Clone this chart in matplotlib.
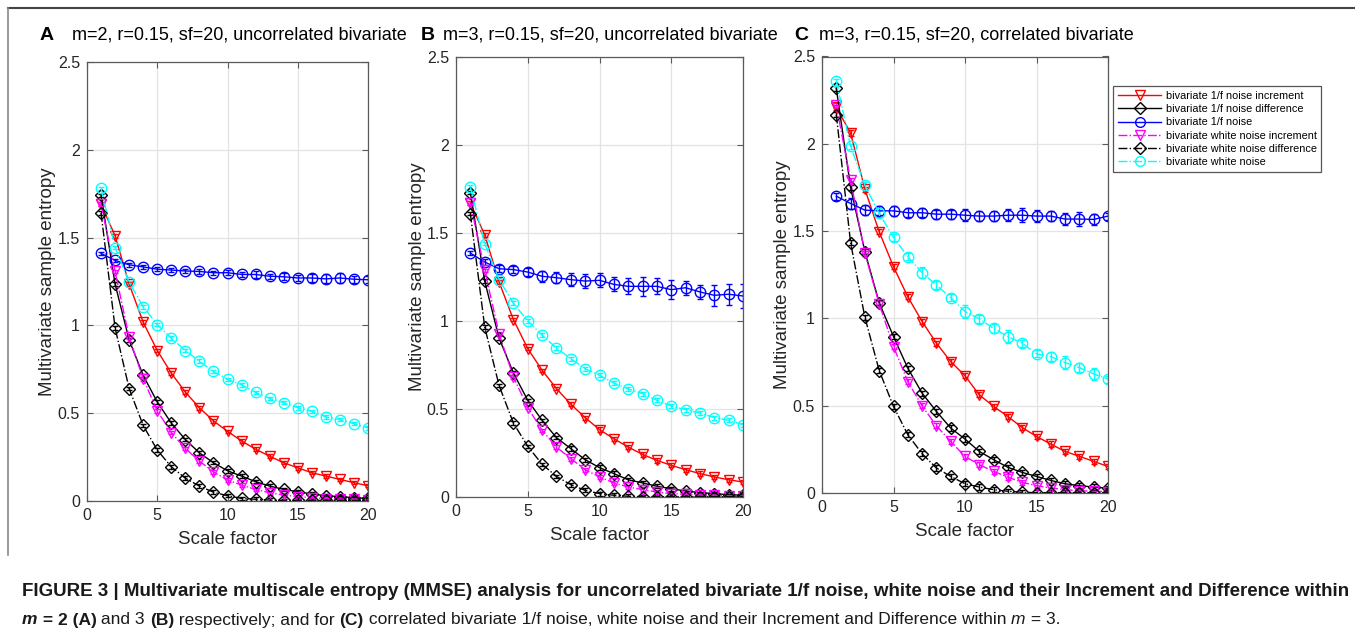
import numpy as np
import matplotlib.pyplot as plt
from matplotlib.lines import Line2D

# ------------------------------------------------------------------------------------------#
# MMSE of bivariate 1/f noise, white noise and their increment / difference (3 panels)
# ------------------------------------------------------------------------------------------#
scale = list(range(1, 21))

# panel A: m=2, uncorrelated
a_f_inc = [1.69, 1.51, 1.235, 1.018, 0.857, 0.728, 0.62, 0.531, 0.456, 0.397,
           0.342, 0.295, 0.255, 0.218, 0.189, 0.161, 0.142, 0.123, 0.104, 0.087]
a_f_diff = [1.74, 1.235, 0.917, 0.715, 0.564, 0.444, 0.35, 0.274, 0.218, 0.172,
            0.142, 0.11, 0.085, 0.066, 0.053, 0.04, 0.03, 0.025, 0.019, 0.015]
a_f = [1.41, 1.37, 1.345, 1.333, 1.32, 1.315, 1.31, 1.307, 1.30, 1.30,
       1.29, 1.29, 1.28, 1.277, 1.27, 1.27, 1.265, 1.27, 1.263, 1.26]
a_w_inc = [1.69, 1.307, 0.932, 0.696, 0.513, 0.39, 0.299, 0.227, 0.166, 0.119,
           0.091, 0.066, 0.047, 0.034, 0.025, 0.019, 0.013, 0.011, 0.01, 0.008]
a_w_diff = [1.64, 0.985, 0.64, 0.43, 0.29, 0.195, 0.13, 0.085, 0.05, 0.03,
            0.015, 0.01, 0.005, 0.003, 0.003, 0.003, 0.003, 0.003, 0.003, 0.003]
a_w = [1.78, 1.443, 1.245, 1.106, 1.004, 0.927, 0.857, 0.796, 0.738, 0.692,
       0.662, 0.618, 0.584, 0.56, 0.531, 0.511, 0.479, 0.463, 0.44, 0.416]
a_f_err = [0.01, 0.01, 0.01, 0.01, 0.01, 0.012, 0.012, 0.012, 0.012, 0.015,
           0.015, 0.02, 0.015, 0.02, 0.015, 0.02, 0.025, 0.03, 0.02, 0.02]
a_small_err = [0.01, 0.01, 0.01, 0.01, 0.01, 0.01, 0.01, 0.01, 0.01, 0.01,
               0.01, 0.01, 0.01, 0.01, 0.01, 0.01, 0.01, 0.01, 0.01, 0.01]

# panel B: m=3, uncorrelated
b_f_inc = [1.67, 1.49, 1.222, 1.008, 0.843, 0.72, 0.616, 0.527, 0.451, 0.383,
           0.331, 0.284, 0.242, 0.208, 0.18, 0.155, 0.133, 0.114, 0.098, 0.085]
b_f_diff = [1.73, 1.227, 0.903, 0.705, 0.549, 0.436, 0.337, 0.275, 0.212, 0.167,
            0.133, 0.098, 0.08, 0.061, 0.047, 0.034, 0.025, 0.019, 0.013, 0.01]
b_f = [1.386, 1.335, 1.297, 1.292, 1.278, 1.254, 1.246, 1.235, 1.227, 1.231,
       1.208, 1.197, 1.197, 1.197, 1.178, 1.189, 1.165, 1.146, 1.152, 1.142]
b_w_inc = [1.67, 1.288, 0.928, 0.682, 0.508, 0.379, 0.284, 0.218, 0.155, 0.114,
           0.08, 0.057, 0.042, 0.028, 0.019, 0.015, 0.011, 0.009, 0.008, 0.006]
b_w_diff = [1.61, 0.966, 0.634, 0.42, 0.288, 0.186, 0.117, 0.07, 0.038, 0.019,
            0.01, 0.004, 0.002, 0.002, 0.002, 0.002, 0.002, 0.002, 0.002, 0.002]
b_w = [1.76, 1.44, 1.235, 1.102, 1.0, 0.919, 0.847, 0.786, 0.729, 0.691,
       0.648, 0.614, 0.587, 0.549, 0.517, 0.496, 0.477, 0.451, 0.436, 0.411]
b_f_err = [0.01, 0.015, 0.02, 0.02, 0.025, 0.03, 0.03, 0.035, 0.04, 0.04,
           0.04, 0.045, 0.055, 0.045, 0.055, 0.04, 0.04, 0.06, 0.06, 0.07]
b_small_err = [0.01, 0.01, 0.01, 0.01, 0.01, 0.01, 0.01, 0.012, 0.012, 0.012,
               0.012, 0.012, 0.012, 0.012, 0.012, 0.012, 0.012, 0.012, 0.012, 0.012]

# panel C: m=3, correlated
c_f_inc = [2.208, 2.062, 1.74, 1.496, 1.296, 1.124, 0.982, 0.858, 0.753, 0.671,
           0.562, 0.496, 0.438, 0.375, 0.324, 0.28, 0.238, 0.21, 0.181, 0.152]
c_f_diff = [2.317, 1.75, 1.382, 1.09, 0.896, 0.715, 0.572, 0.467, 0.372, 0.309,
            0.238, 0.191, 0.147, 0.118, 0.095, 0.072, 0.053, 0.042, 0.034, 0.027]
c_f = [1.70, 1.658, 1.62, 1.616, 1.616, 1.605, 1.605, 1.597, 1.597, 1.591,
       1.586, 1.586, 1.591, 1.591, 1.586, 1.586, 1.569, 1.569, 1.567, 1.586]
c_w_inc = [2.22, 1.79, 1.372, 1.083, 0.839, 0.638, 0.499, 0.385, 0.295, 0.21,
           0.162, 0.124, 0.091, 0.061, 0.042, 0.029, 0.019, 0.013, 0.01, 0.008]
c_w_diff = [2.167, 1.433, 1.006, 0.701, 0.496, 0.334, 0.225, 0.143, 0.095, 0.053,
            0.034, 0.019, 0.01, 0.004, 0.002, 0.002, 0.002, 0.002, 0.002, 0.002]
c_w = [2.36, 1.985, 1.763, 1.601, 1.464, 1.353, 1.262, 1.191, 1.119, 1.039,
       0.997, 0.943, 0.896, 0.858, 0.797, 0.781, 0.747, 0.718, 0.682, 0.652]
c_f_err = [0.02, 0.03, 0.03, 0.025, 0.03, 0.025, 0.025, 0.025, 0.025, 0.035,
           0.03, 0.03, 0.035, 0.04, 0.035, 0.03, 0.035, 0.04, 0.03, 0.02]
c_w_err = [0.01, 0.015, 0.02, 0.02, 0.02, 0.02, 0.03, 0.025, 0.02, 0.035,
           0.025, 0.025, 0.035, 0.02, 0.02, 0.025, 0.035, 0.025, 0.035, 0.02]
c_small_err = [0.015, 0.015, 0.015, 0.015, 0.015, 0.015, 0.015, 0.015, 0.015, 0.015,
               0.015, 0.015, 0.015, 0.015, 0.015, 0.015, 0.015, 0.015, 0.015, 0.015]

series_labels = ["bivariate 1/f noise increment", "bivariate 1/f noise difference",
                 "bivariate 1/f noise", "bivariate white noise increment",
                 "bivariate white noise difference", "bivariate white noise"]
panel_letters = ["A", "B", "C"]
panel_titles = ["m=2, r=0.15, sf=20, uncorrelated bivariate",
                "m=3, r=0.15, sf=20, uncorrelated bivariate",
                "m=3, r=0.15, sf=20, correlated bivariate"]

# farbe, linienstil, marker je Serie (MATLAB-Stil)
styles = [("#ff0000", "-", "v"), ("#000000", "-", "D"), ("#0000ff", "-", "o"),
          ("#ff00ff", "-.", "v"), ("#000000", "-.", "D"), ("#00ffff", "-.", "o")]

panels = [
    ([a_f_inc, a_f_diff, a_f, a_w_inc, a_w_diff, a_w],
     [a_small_err, a_small_err, a_f_err, a_small_err, a_small_err, a_small_err]),
    ([b_f_inc, b_f_diff, b_f, b_w_inc, b_w_diff, b_w],
     [b_small_err, b_small_err, b_f_err, b_small_err, b_small_err, b_small_err]),
    ([c_f_inc, c_f_diff, c_f, c_w_inc, c_w_diff, c_w],
     [c_small_err, c_small_err, c_f_err, c_small_err, c_small_err, c_w_err]),
]

W, H = 1355, 635
plt.rcParams["font.family"] = ["Liberation Sans", "DejaVu Sans"]
fig = plt.figure(figsize=(W / 100, H / 100), dpi=100)

# pixel boxes (left, top, right, bottom) of the three axes
boxes = [(87, 62, 368, 501), (456, 57, 743, 497), (822, 56.5, 1108, 493)]
letter_x = [40, 421, 794]
title_x = [72, 443, 819]
ylabel_x = [48, 417, 783]


def msize(mk):
    return 6.5 if mk == "D" else 7.5


axcol = "#5a5a5a"
txtcol = "#262626"
for i, (l, t, r, b) in enumerate(boxes):
    ax = fig.add_axes([l / W, 1 - b / H, (r - l) / W, (b - t) / H])
    vals, errs = panels[i]
    for (col, ls, mk), y, e in zip(styles, vals, errs):
        ax.errorbar(scale, y, yerr=e, color=col, linestyle=ls, marker=mk,
                    markersize=msize(mk), fillstyle="none",
                    markeredgewidth=1, linewidth=1, elinewidth=1, capsize=2.5)
    ax.set_xlim(0, 20)
    ax.set_ylim(0, 2.5)
    ax.set_xticks([0, 5, 10, 15, 20])
    ax.set_yticks([0, 0.5, 1, 1.5, 2, 2.5])
    ax.set_yticklabels(["0", "0.5", "1", "1.5", "2", "2.5"])
    ax.grid(True, color="#e3e3e3", linewidth=0.9)
    ax.set_axisbelow(True)
    ax.tick_params(direction="in", top=True, right=True, length=4, width=0.8,
                   colors=axcol, labelcolor=txtcol, labelsize=11.5, pad=5)
    for sp in ax.spines.values():
        sp.set_color(axcol)
        sp.set_linewidth(0.9)
    ax.set_xlabel("Scale factor", fontsize=13.5, color=txtcol, labelpad=6)
    fig.text(ylabel_x[i] / W, 1 - ((t + b) / 2) / H, "Multivariate sample entropy",
             rotation=90, fontsize=13.5, color=txtcol, ha="center", va="center")
    fig.text(letter_x[i] / W, 1 - 35 / H, panel_letters[i], fontsize=14,
             fontweight="bold", ha="left", va="center", color="black")
    fig.text(title_x[i] / W, 1 - 35 / H, panel_titles[i], fontsize=13,
             ha="left", va="center", color="black")

# legend in the figure (right of panel C)
handles = [Line2D([], [], color=c, linestyle=ls, marker=mk, fillstyle="none",
                  markersize=msize(mk) - 0.5, linewidth=1)
           for c, ls, mk in styles]
leg = fig.legend(handles, series_labels, loc="upper left",
                 bbox_to_anchor=(1113 / W, 1 - 86 / H), borderaxespad=0,
                 fontsize=7.8, handlelength=4, labelspacing=0.3, borderpad=0.45,
                 handletextpad=0.4, fancybox=False, framealpha=1)
leg.get_frame().set_edgecolor("#555555")
leg.get_frame().set_linewidth(0.9)

# Rahmen der Abbildung (oben und links)
fig.add_artist(Line2D([8 / W, 1], [1 - 8 / H, 1 - 8 / H], color="#444444",
                      linewidth=1.5, transform=fig.transFigure))
fig.add_artist(Line2D([8 / W, 8 / W], [1 - 8 / H, 1 - 555 / H], color="#888888",
                      linewidth=1.2, transform=fig.transFigure))

# caption: mehrere Textstuecke mit unterschiedlichem Stil hintereinander
fig.canvas.draw()
renderer = fig.canvas.get_renderer()


def put_line(pieces, x0, y0, size):
    x = x0
    for s, weight, style in pieces:
        txt = fig.text(x / W, 1 - y0 / H, s, fontsize=size, fontweight=weight,
                       fontstyle=style, ha="left", va="center", color="#1a1a1a")
        bb = txt.get_window_extent(renderer)
        x += bb.width


line1 = [("FIGURE 3 | Multivariate multiscale entropy (MMSE) analysis for uncorrelated "
          "bivariate 1/f noise, white noise and their Increment and Difference within",
          "bold", "normal")]
line2 = [("m", "bold", "italic"), (" = 2 (A)", "bold", "normal"),
         (" and 3 ", "normal", "normal"), ("(B)", "bold", "normal"),
         (" respectively; and for ", "normal", "normal"), ("(C)", "bold", "normal"),
         (" correlated bivariate 1/f noise, white noise and their Increment and "
          "Difference within ", "normal", "normal"),
         ("m", "normal", "italic"), (" = 3.", "normal", "normal")]
put_line(line1, 22, 591, 13.5)
put_line(line2, 22, 620, 12.5)

fig.savefig("out.png", dpi=100)
